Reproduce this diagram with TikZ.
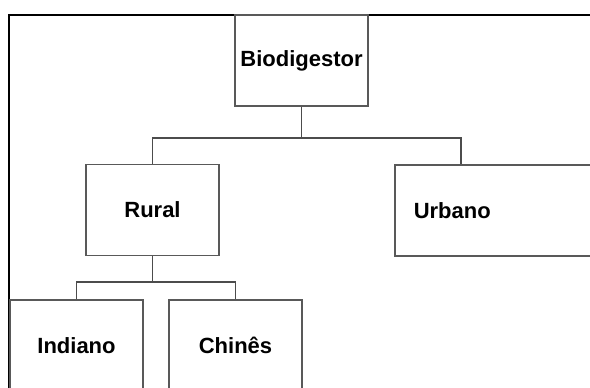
\documentclass[tikz,border=0pt]{standalone}
\usepackage{fontspec}
\setmainfont{Liberation Sans}
\usetikzlibrary{positioning}

\begin{document}
\begin{tikzpicture}[x=1pt, y=-1pt,
    treebox/.style={draw=black!65, line width=1.6pt, fill=white, minimum width=133pt, minimum height=91pt, inner sep=0pt, font=\fontsize{22}{25}\selectfont\bfseries},
    link/.style={draw=black!70, line width=1.5pt}
  ]
    \useasboundingbox (0,0) rectangle (590,388);
    \clip (0,0) rectangle (590,388);
    \draw[line width=2pt] (9,14.5) rectangle (700,500);

    \node[treebox] (bio) at (301.5,60.5) {Biodigestor};
    \node[treebox] (rural) at (152.5,210) {Rural};
    \node[treebox, anchor=north west, minimum width=0pt, text width=170pt, align=left, inner xsep=19pt] (urbano) at (394,164) {Urbano};
    \node[treebox] (indiano) at (76.5,345.5) {Indiano};
    \node[treebox] (chines) at (235.5,345.5) {Chinês};

    \coordinate (j1) at (301.5,138);
    \coordinate (j2) at (152.5,282);

    \draw[link] (bio) -- (j1);
    \draw[link] (j1) -| (rural);
    \draw[link] (j1) -| ([xshift=67pt]urbano.north west);
    \draw[link] (rural) -- (j2);
    \draw[link] (j2) -| (indiano);
    \draw[link] (j2) -| (chines);
  \end{tikzpicture}
\end{document}
